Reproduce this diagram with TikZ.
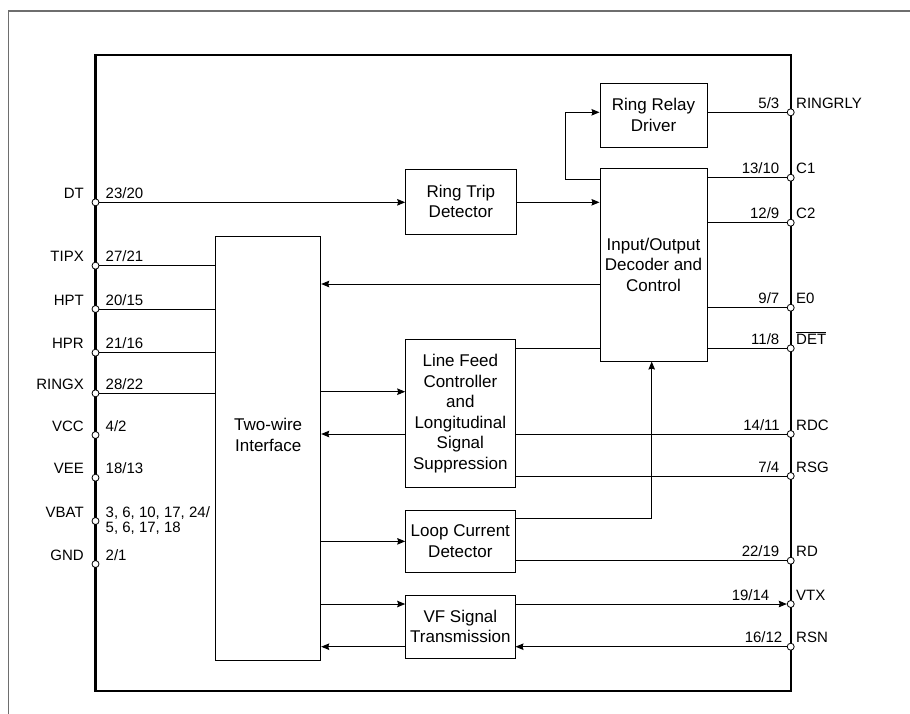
\documentclass[tikz,border=0pt]{standalone}
\usepackage{fontspec}
\setmainfont{Liberation Sans}
\usetikzlibrary{arrows.meta}
\newcommand\blockfont{\fontsize{17}{20.5}\selectfont}
\newcommand\pinfont{\fontsize{15}{18}\selectfont}
\definecolor{framegray}{RGB}{110,110,110}
\tikzset{
 box/.style={draw, line width=1pt, inner sep=0pt, align=center, font=\blockfont},
 pinc/.style={circle, draw, fill=white, line width=0.8pt, minimum size=7pt, inner sep=0pt},
 plabel/.style={inner sep=0pt, font=\pinfont},
 wire/.style={line width=0.9pt},
 arr/.style={wire, -{Stealth[length=8pt,width=6.5pt,inset=1pt]}},
}
\newcommand\lpin[4]{%
 \node[pinc] (#1) at (95.5,#2) {};
 \node[plabel, anchor=base east] (#1-l) at (84,#2-4) {#3};
 \node[plabel, anchor=base west] (#1-n) at (105.5,#2-4) {#4};}
\newcommand\rpin[5]{%
 \node[pinc] (#1) at (790.7,#2) {};
 \node[plabel, anchor=base west] (#1-l) at (796,#2-4) {#3};
 \node[plabel, anchor=base east] (#1-n) at (#5,#2-4) {#4};}
\begin{document}
\begin{tikzpicture}[x=1pt,y=-1pt]
\useasboundingbox (0,0) rectangle (910,713);
\fill[white] (0,0) rectangle (910,713);
\draw[framegray, line width=1.5pt] (8.7,730) -- (8.7,11) -- (930,11);
\node[draw, line width=2.2pt, minimum width=695.2pt, minimum height=636pt, inner sep=0pt] (chip) at (443.1,373) {};

% blocks
\node[box, minimum width=107pt, minimum height=64pt] (rrd) at (653.5,115) {Ring Relay\\Driver};
\node[box, minimum width=107pt, minimum height=192.7pt] (io) at (653.5,264.7) {Input/Output\\Decoder and\\Control};
\node[box, minimum width=110.3pt, minimum height=65pt] (rtd) at (460.85,201.5) {Ring Trip\\Detector};
\node[box, minimum width=109.3pt, minimum height=148.4pt] (lf) at (460.35,413.5) {Line Feed\\Controller\\and\\Longitudinal\\Signal\\Suppression};
\node[box, minimum width=109.3pt, minimum height=62.7pt] (lcd) at (460.35,541.35) {Loop Current\\Detector};
\node[box, minimum width=109.3pt, minimum height=63.3pt] (vf) at (460.35,626.65) {VF Signal\\Transmission};
\node[box, minimum width=105pt, minimum height=423.3pt] (tw) at (268.2,448.35) {};
\node[font=\blockfont, align=center, inner sep=0pt] (twt) at (268.2,435) {Two-wire\\Interface};

% left pins
\lpin{dt}{202.3}{DT}{23/20}
\lpin{tipx}{265.7}{TIPX}{27/21}
\lpin{hpt}{309}{HPT}{20/15}
\lpin{hpr}{352.7}{HPR}{21/16}
\lpin{ringx}{393.3}{RINGX}{28/22}
\lpin{vcc}{435}{VCC}{4/2}
\lpin{vee}{477.7}{VEE}{18/13}
\node[pinc] (vbat) at (95.5,521) {};
\node[plabel, anchor=base east] (vbat-l) at (84,517) {VBAT};
\node[plabel, anchor=base west] (vbat-n1) at (105.5,517) {3, 6, 10, 17, 24/};
\node[plabel, anchor=base west] (vbat-n2) at (105.5,532) {5, 6, 17, 18};
\lpin{gnd}{564}{GND}{2/1}

% right pins
\rpin{ringrly}{112.3}{RINGRLY}{5/3}{779.5}
\rpin{c1}{177.7}{C1}{13/10}{779.5}
\rpin{c2}{222.7}{C2}{12/9}{779.5}
\rpin{e0}{307.7}{E0}{9/7}{779.5}
\rpin{det}{348.3}{$\overline{\hbox{DET}}$}{11/8}{779.5}
\rpin{rdc}{434}{RDC}{14/11}{780}
\rpin{rsg}{476}{RSG}{7/4}{779.5}
\rpin{rd}{560.7}{RD}{22/19}{779.5}
\rpin{vtx}{604}{VTX}{19/14}{769.5}
\rpin{rsn}{646.7}{RSN}{16/12}{782.5}

% helper coordinates
\coordinate (loop) at (565.7,179);
\coordinate (iotw) at (600,284);
\coordinate (twlf) at (320,391.7);
\coordinate (lcdout) at (651.7,518.3);

% connectors
\draw[arr] (dt) -- (rtd.west |- dt);
\draw[arr] (rtd.east |- dt) -- (io.west |- dt);
\draw[arr] (io.west |- loop) -- (loop) |- (rrd.west |- ringrly);
\draw[wire] (rrd.east |- ringrly) -- (ringrly);
\draw[wire] (io.east |- c1) -- (c1);
\draw[wire] (io.east |- c2) -- (c2);
\draw[wire] (io.east |- e0) -- (e0);
\draw[wire] (io.east |- det) -- (det);
\draw[arr] (iotw) -- (tw.east |- iotw);
\draw[wire] (lf.east |- det) -- (io.west |- det);
\draw[arr] (twlf) -- (lf.west |- twlf);
\draw[wire] (rdc) -- (lf.east |- rdc);
\draw[arr] (lf.west |- rdc) -- (tw.east |- rdc);
\draw[wire] (lf.east |- rsg) -- (rsg);
\draw[arr] (tw.east |- lcd.west) -- (lcd.west);
\draw[arr] (lcd.east |- lcdout) -- (lcdout) -- (lcdout |- io.south);
\draw[wire] (lcd.east |- rd) -- (rd);
\draw[arr] (tw.east |- vtx) -- (vf.west |- vtx);
\draw[arr] (vf.east |- vtx) -- (vtx);
\draw[arr] (rsn) -- (vf.east |- rsn);
\draw[arr] (vf.west |- rsn) -- (tw.east |- rsn);
\draw[wire] (tipx) -- (tw.west |- tipx);
\draw[wire] (hpt) -- (tw.west |- hpt);
\draw[wire] (hpr) -- (tw.west |- hpr);
\draw[wire] (ringx) -- (tw.west |- ringx);
\end{tikzpicture}
\end{document}
